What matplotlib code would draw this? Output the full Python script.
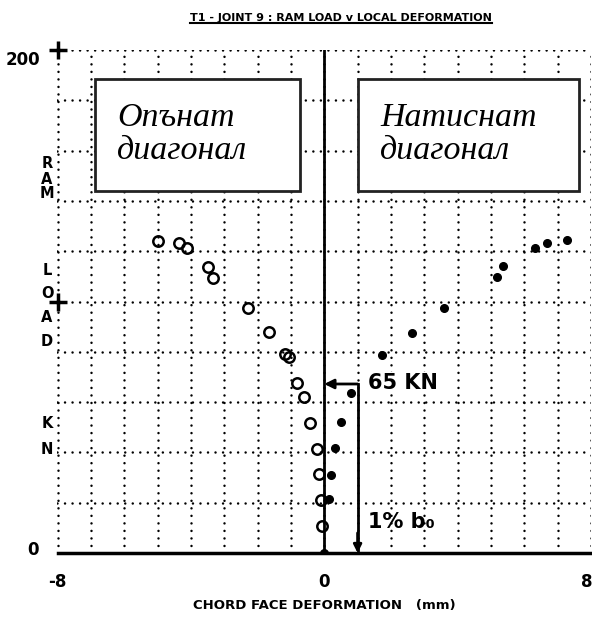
"""T1 - joint 9: ram load vs local chord face deformation."""
import matplotlib
matplotlib.use("Agg")
import matplotlib.pyplot as plt
from matplotlib.patches import Rectangle
from matplotlib.lines import Line2D

# ---- data ------------------------------------------------------------------
# tension diagonal (open circles), deformation mm / load kN
tension_def = [-4.98, -4.35, -4.11, -3.48, -3.33, -2.28, -1.65, -1.17, -1.05,
               -0.81, -0.60, -0.42, -0.21, -0.15, -0.09, -0.06]
tension_load = [124.1, 123.3, 121.3, 113.7, 109.3, 97.4, 87.9, 79.0, 77.8,
                67.6, 62.0, 51.7, 41.4, 31.4, 21.1, 10.7]
# compression diagonal (filled dots)
comp_def = [0.0, 0.15, 0.21, 0.33, 0.51, 0.81, 1.74, 2.64, 3.60, 5.19, 5.37,
            6.33, 6.69, 7.29]
comp_load = [0.0, 21.5, 31.0, 41.7, 52.1, 63.6, 78.7, 87.5, 97.4, 109.7,
             114.1, 121.3, 123.3, 124.5]

limit_def = 1.0      # 1% b0
limit_load = 67.2    # where the 65 kN arrow is drawn
limit_label = "65 KN"

title = "T1 - JOINT 9 : RAM LOAD v LOCAL DEFORMATION"
xlabel = "CHORD FACE DEFORMATION   (mm)"
ylabel_letters = ["R", "A", "M", "L", "O", "A", "D", "K", "N"]
ylabel_rows = [164, 179, 194, 270, 293, 318, 342, 423, 449]   # pixel rows
box_texts = ["Опънат\nдиагонал", "Натиснат\nдиагонал"]

W, H = 592, 617
DOT = ["Liberation Sans Narrow", "DejaVu Sans"]

fig = plt.figure(figsize=(W / 100, H / 100), dpi=100)
ax = fig.add_axes([57.5 / W, 1 - 553 / H, 533.5 / W, 503 / H])
ax.set_xlim(-8, 8)
ax.set_ylim(0, 200)

ax.set_xticks([-8, 0, 8])
ax.set_xticks(range(-8, 9), minor=True)
ax.set_yticks([0, 200])
ax.set_yticks(range(0, 201, 20), minor=True)
ax.tick_params(which="both", length=0)
ax.set_xticklabels([])
ax.set_yticklabels([])

dotted = dict(color="black", lw=1.8, linestyle=(0, (0.01, 3.0)),
              dash_capstyle="round")
ax.grid(which="both", **dotted)
ax.set_axisbelow(True)
for s in ("left", "top", "right"):
    ax.spines[s].set_visible(False)
ax.spines["bottom"].set_linewidth(2.5)

ax.axvline(0, color="black", lw=2, zorder=2)
ax.plot([-8, -8], [200, 100], ls="none", marker="+", ms=13, mew=2.5,
        color="black", clip_on=False, zorder=4)

ax.plot(tension_def, tension_load, ls="none", marker="o", ms=7.5,
        mfc="none", mec="black", mew=1.8, zorder=5)
ax.plot(comp_def, comp_load, ls="none", marker="o", ms=5.5,
        color="black", zorder=5)

# 1% b0 limit and the 65 kN arrow
ax.plot([limit_def, limit_def], [0, limit_load], color="black", lw=2, zorder=4)
ax.annotate("", xy=(0, limit_load), xytext=(limit_def, limit_load),
            arrowprops=dict(arrowstyle="-|>", lw=2, color="black",
                            mutation_scale=14, shrinkA=0, shrinkB=0), zorder=4)
ax.annotate("", xy=(limit_def, 0), xytext=(limit_def, 8),
            arrowprops=dict(arrowstyle="-|>", lw=2, color="black",
                            mutation_scale=12, shrinkA=0, shrinkB=0), zorder=4)
ax.text(1.32, limit_load + 0.5, limit_label, family=DOT, weight="bold",
        fontsize=15, va="center", ha="left", zorder=6,
        bbox=dict(fc="white", ec="none", pad=0.5))
ax.text(1.32, 12.3, "1% b₀", family=DOT, weight="bold", fontsize=15,
        va="center", ha="left", zorder=6)

# labelled boxes
for (x0, x1), label in zip([(-6.87, -0.72), (1.02, 7.65)], box_texts):
    ax.add_patch(Rectangle((x0, 143.9), x1 - x0, 44.6, fc="white",
                           ec="#222222", lw=2, zorder=6))
    ax.text(x0 + 0.66, 166.6, label, family="Liberation Serif",
            style="italic", fontsize=24.5, va="center", ha="left",
            linespacing=1.1, zorder=7)

# tick labels
for xv, ha, dx in [(-8, "center", 0), (0, "center", 0), (8, "right", 1)]:
    fig.text((57.5 + (xv + 8) * 533.5 / 16 + dx) / W, 1 - 582 / H,
             "%d" % xv, family=DOT, weight="bold", fontsize=12,
             ha=ha, va="center")
fig.text(23 / W, 1 - 60 / H, "200", family=DOT, weight="bold", fontsize=12,
         ha="center", va="center")
fig.text(33 / W, 1 - 550 / H, "0", family=DOT, weight="bold", fontsize=12,
         ha="center", va="center")

for letter, row in zip(ylabel_letters, ylabel_rows):
    fig.text(47 / W, 1 - row / H, letter, family=DOT, weight="bold",
             fontsize=10.5, ha="center", va="center")

fig.text(324 / W, 1 - 605 / H, xlabel, family=DOT, weight="bold",
         fontsize=9.5, ha="center", va="center")

t = fig.text(341 / W, 1 - 18 / H, title, family=DOT, weight="bold",
             fontsize=8, ha="center", va="center")
fig.canvas.draw()
bb = t.get_window_extent().transformed(fig.transFigure.inverted())
fig.add_artist(Line2D([bb.x0, bb.x1], [bb.y0, bb.y0], color="black", lw=1.5,
                      transform=fig.transFigure))

fig.savefig("out.png", dpi=100)
plt.close(fig)
